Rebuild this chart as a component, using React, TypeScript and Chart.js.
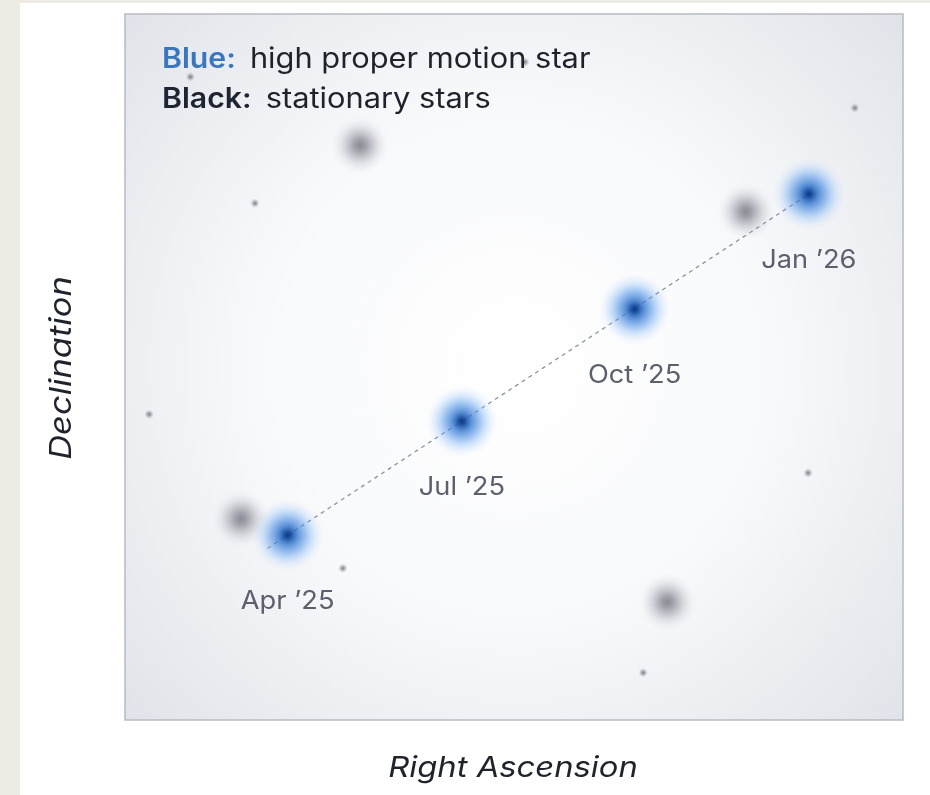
import React, { useEffect, useRef } from "react";
import { Chart, registerables } from "chart.js";

Chart.register(...registerables);

// ---- data (plot units 0..100 on both axes) ----
const months = ["Apr ’25", "Jul ’25", "Oct ’25", "Jan ’26"];
const blueRA = [20.9, 43.3, 65.5, 87.9];
const blueDec = [26.2, 42.3, 58.2, 74.5];

const trackRA = [18.3, 87.9];
const trackDec = [24.3, 74.5];

const bigStarRA = [30.2, 79.8, 14.9, 69.7];
const bigStarDec = [81.4, 72.0, 28.5, 16.7];

const dotRA = [8.4, 51.4, 93.8, 16.7, 3.1, 87.8, 28.0, 66.6];
const dotDec = [91.1, 93.2, 86.7, 73.2, 43.3, 35.0, 21.5, 6.7];

const legendLines = [
  { key: "Blue:", text: "high proper motion star", color: "#3a76bd" },
  { key: "Black:", text: "stationary stars", color: "#1e2431" },
];
const xTitle = "Right Ascension";
const yTitle = "Declination";

function glow(size: number, stops: [number, string][]): HTMLCanvasElement {
  const c = document.createElement("canvas");
  c.width = size;
  c.height = size;
  const g = c.getContext("2d")!;
  const r = size / 2;
  const grad = g.createRadialGradient(r, r, 0, r, r, r);
  stops.forEach(([o, col]) => grad.addColorStop(o, col));
  g.fillStyle = grad;
  g.fillRect(0, 0, size, size);
  return c;
}

function stretchedText(ctx: CanvasRenderingContext2D, text: string, x: number, y: number, sx: number) {
  ctx.save();
  ctx.translate(x, y);
  ctx.scale(sx, 1);
  ctx.fillText(text, 0, 0);
  ctx.restore();
}

export default function App() {
  const ref = useRef<HTMLCanvasElement>(null);

  useEffect(() => {
    document.body.style.margin = "0";
    const blueStar = glow(72, [
      [0, "rgba(14,58,135,1)"],
      [0.08, "rgba(20,72,155,0.97)"],
      [0.25, "rgba(40,110,200,0.78)"],
      [0.5, "rgba(75,145,232,0.52)"],
      [0.7, "rgba(115,175,248,0.28)"],
      [0.86, "rgba(150,195,255,0.1)"],
      [1, "rgba(180,215,255,0)"],
    ]);
    const grayStar = glow(58, [
      [0, "rgba(128,130,140,0.92)"],
      [0.2, "rgba(136,138,148,0.78)"],
      [0.45, "rgba(155,157,167,0.5)"],
      [0.68, "rgba(176,178,188,0.24)"],
      [0.86, "rgba(192,194,202,0.07)"],
      [1, "rgba(205,207,215,0)"],
    ]);
    const dot = glow(9, [
      [0, "rgba(120,122,130,1)"],
      [0.45, "rgba(135,137,146,0.6)"],
      [1, "rgba(160,162,170,0)"],
    ]);

    const pts = (xs: number[], ys: number[]) => xs.map((x, i) => ({ x, y: ys[i] }));

    const decor = {
      id: "decor",
      beforeDraw(chart: any) {
        const { ctx, chartArea: a, width, height } = chart;
        ctx.save();
        ctx.fillStyle = "#eeebe5";
        ctx.fillRect(0, 0, width, height);
        ctx.fillStyle = "#ffffff";
        ctx.fillRect(20, 3, width - 20, height - 3);
        const cx = (a.left + a.right) / 2;
        const cy = (a.top + a.bottom) / 2;
        const R = Math.hypot(a.right - a.left, a.bottom - a.top) / 2;
        const g = ctx.createRadialGradient(cx, cy, 0, cx, cy, R);
        g.addColorStop(0, "#ffffff");
        g.addColorStop(0.5, "#f8f9fb");
        g.addColorStop(1, "#e0e3e9");
        ctx.fillStyle = g;
        ctx.fillRect(a.left, a.top, a.right - a.left, a.bottom - a.top);
        ctx.strokeStyle = "#b8bbc3";
        ctx.lineWidth = 1.5;
        ctx.strokeRect(a.left, a.top, a.right - a.left, a.bottom - a.top);
        ctx.restore();
      },
      afterDatasetsDraw(chart: any) {
        const { ctx, scales } = chart;
        const xs = scales.x;
        const ys = scales.y;
        ctx.save();
        // month labels
        ctx.font = "25px Inter";
        ctx.fillStyle = "#5b606c";
        ctx.textAlign = "center";
        ctx.textBaseline = "alphabetic";
        months.forEach((m, i) => {
          stretchedText(ctx, m, xs.getPixelForValue(blueRA[i]), ys.getPixelForValue(blueDec[i]) + 74, 1.09);
        });
        // legend
        ctx.textAlign = "left";
        legendLines.forEach((l, i) => {
          const y = 68 + i * 40;
          ctx.font = "600 28px Inter";
          ctx.fillStyle = l.color;
          stretchedText(ctx, l.key, 162, y, 1.08);
          const w = ctx.measureText(l.key).width * 1.08;
          ctx.font = "28px Inter";
          ctx.fillStyle = "#1f2229";
          stretchedText(ctx, l.text, 162 + w + 14, y, 1.1);
        });
        // axis titles
        ctx.font = "italic 29px Inter";
        ctx.fillStyle = "#1f232b";
        ctx.textAlign = "center";
        ctx.textBaseline = "middle";
        stretchedText(ctx, xTitle, 513, 768, 1.13);
        ctx.font = "italic 30px Inter";
        ctx.translate(62, 368);
        ctx.rotate(-Math.PI / 2);
        stretchedText(ctx, yTitle, 0, 0, 1.15);
        ctx.restore();
      },
    };

    const chart = new Chart(ref.current!, {
      type: "scatter",
      data: {
        datasets: [
          {
            data: pts(blueRA, blueDec),
            pointStyle: blueStar as any,
            pointRadius: 36,
          },
          {
            type: "line",
            data: pts(trackRA, trackDec),
            borderColor: "#8b94a4",
            borderWidth: 1.3,
            borderDash: [4, 4],
            pointRadius: 0,
            fill: false,
          } as any,
          {
            data: pts(bigStarRA, bigStarDec),
            pointStyle: grayStar as any,
            pointRadius: 29,
          },
          {
            data: pts(dotRA, dotDec),
            pointStyle: dot as any,
            pointRadius: 4,
          },
        ],
      },
      options: {
        responsive: false,
        animation: false,
        devicePixelRatio: 1,
        layout: { autoPadding: false, padding: { left: 125, top: 14, right: 27, bottom: 75 } },
        plugins: { legend: { display: false }, tooltip: { enabled: false } },
        scales: {
          x: { type: "linear", min: 0, max: 100, display: false },
          y: { type: "linear", min: 0, max: 100, display: false },
        },
      },
      plugins: [decor],
    });
    return () => chart.destroy();
  }, []);

  return <canvas ref={ref} width={930} height={795} style={{ display: "block" }} />;
}
